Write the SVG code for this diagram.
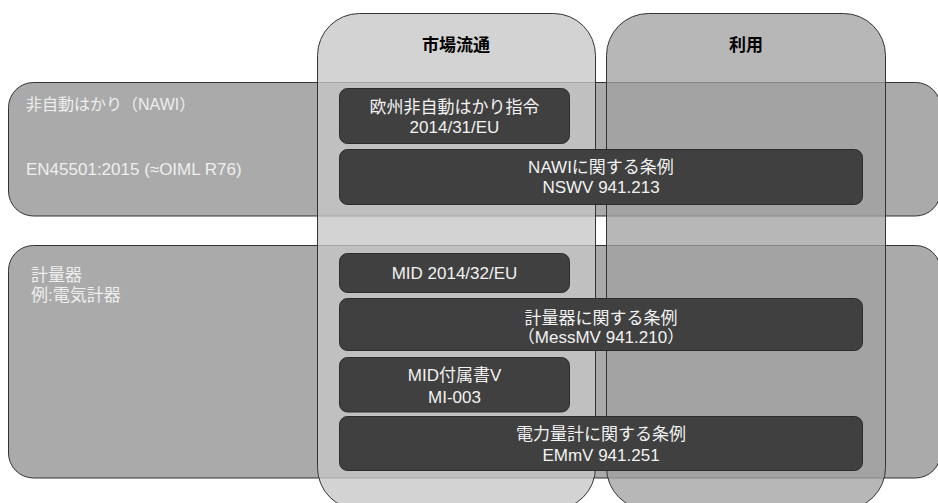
<svg xmlns="http://www.w3.org/2000/svg" width="938" height="503" viewBox="0 0 938 503">
<style>
.row{fill:#aaaaaa;stroke:#333333;stroke-width:1}
.col1{fill:#c6c6c6;fill-opacity:0.78;stroke:#333333;stroke-width:1}
.col2{fill:#a1a1a1;fill-opacity:0.765;stroke:#333333;stroke-width:1}
.box{fill:#404040;stroke:#2c2c2c;stroke-width:1}
text{font-family:"Liberation Sans","Noto Sans CJK JP",sans-serif;font-size:17px}
.hd{font-weight:bold;fill:#000000;text-anchor:middle}
.lbl{fill:#eeeeee}
.bt{fill:#f2f2f2;text-anchor:middle}
</style>
<g id="row-nawi">
<rect class="row" x="8.5" y="82.5" width="932" height="133.5" rx="25"/>
<text class="lbl" x="26" y="110" style="font-size:16px">非自動はかり（NAWI）</text>
<text class="lbl" x="26" y="174.5">EN45501:2015 (≈OIML R76)</text>
</g>
<g id="row-meter">
<rect class="row" x="8.5" y="245.5" width="932" height="232.5" rx="25"/>
<text class="lbl" x="31" y="281">計量器</text>
<text class="lbl" x="31" y="301">例:電気計器</text>
</g>
<g id="col-market">
<rect class="col1" x="317.5" y="13.5" width="278" height="496" rx="42"/>
<text class="hd" x="456" y="51">市場流通</text>
</g>
<g id="col-use">
<rect class="col2" x="606.5" y="13.5" width="279" height="496" rx="42"/>
<text class="hd" x="746" y="51">利用</text>
</g>
<g id="box-nawi-directive">
<rect class="box" x="339.5" y="88.5" width="230" height="55" rx="8"/>
<text class="bt" x="454.5" y="113">欧州非自動はかり指令</text>
<text class="bt" x="454.5" y="133">2014/31/EU</text>
</g>
<g id="box-nswv">
<rect class="box" x="339.5" y="149.5" width="523" height="55" rx="8"/>
<text class="bt" x="601" y="173">NAWIに関する条例</text>
<text class="bt" x="601" y="193">NSWV 941.213</text>
</g>
<g id="box-mid">
<rect class="box" x="339.5" y="253.5" width="230" height="39" rx="8"/>
<text class="bt" x="454.5" y="279">MID 2014/32/EU</text>
</g>
<g id="box-messmv">
<rect class="box" x="339.5" y="298.5" width="523" height="52" rx="8"/>
<text class="bt" x="601" y="323.5">計量器に関する条例</text>
<text class="bt" x="601" y="343">（MessMV 941.210）</text>
</g>
<g id="box-mid-annex">
<rect class="box" x="339.5" y="357.5" width="230" height="54.5" rx="8"/>
<text class="bt" x="454.5" y="381">MID付属書V</text>
<text class="bt" x="454.5" y="403">MI-003</text>
</g>
<g id="box-emmv">
<rect class="box" x="339.5" y="416.5" width="523" height="54" rx="8"/>
<text class="bt" x="601" y="439.5">電力量計に関する条例</text>
<text class="bt" x="601" y="461">EMmV 941.251</text>
</g>
<g id="connectors"/>
</svg>
